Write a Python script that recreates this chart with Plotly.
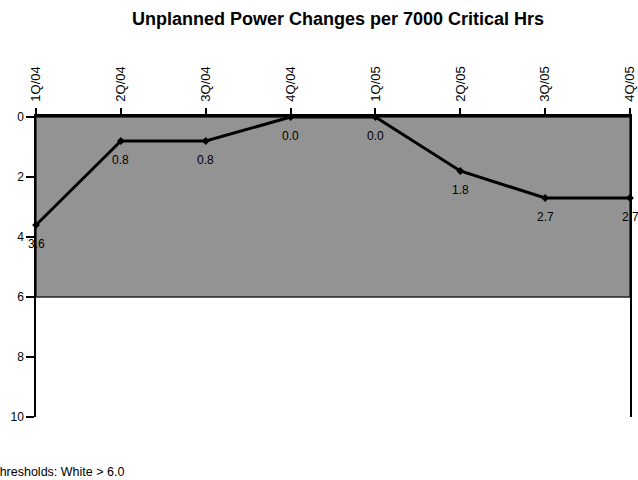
import plotly.graph_objects as go

quarters = ["1Q/04", "2Q/04", "3Q/04", "4Q/04", "1Q/05", "2Q/05", "3Q/05", "4Q/05"]
values = [3.6, 0.8, 0.8, 0.0, 0.0, 1.8, 2.7, 2.7]
threshold = 6.0
y_ticks = [0, 2, 4, 6, 8, 10]

xs = list(range(len(quarters)))
FONT = "Liberation Sans, Arial"

fig = go.Figure()
fig.add_trace(go.Scatter(
    x=xs, y=values, mode="lines+markers",
    line=dict(color="black", width=3),
    marker=dict(symbol="diamond", size=6, color="black"),
    cliponaxis=False, showlegend=False,
))

fig.add_shape(type="rect", xref="x", yref="y", x0=0, x1=len(quarters) - 1, y0=0, y1=threshold,
              fillcolor="#939393", line=dict(color="#222222", width=1.5), layer="below")

PLOT_W, PLOT_H = 594, 300
annotations = [dict(x=x, y=v, xref="x", yref="y", text=f"{v:.1f}", showarrow=False,
                    yshift=-19, xanchor="center", yanchor="middle",
                    font=dict(family=FONT, size=12, color="black"))
               for x, v in zip(xs, values)]
annotations.append(dict(text="Thresholds: White > 6.0", xref="paper", yref="paper",
                        x=-46 / PLOT_W, y=-55 / PLOT_H, xanchor="left", yanchor="middle",
                        showarrow=False,
                        font=dict(family=FONT, size=12.5, color="black")))

fig.update_layout(
    width=638, height=480,
    margin=dict(l=36, r=8, t=117, b=63),
    paper_bgcolor="white", plot_bgcolor="white",
    title=dict(text="<b>Unplanned Power Changes per 7000 Critical Hrs</b>",
               x=338 / 638, xanchor="center", y=1 - 19 / 480, yanchor="middle",
               font=dict(family=FONT, size=18, color="black")),
    xaxis=dict(range=[0, len(quarters) - 1], side="top", tickvals=xs, ticktext=quarters,
               tickangle=-90, ticks="outside", ticklen=6, tickwidth=2, tickcolor="black",
               ticklabelstandoff=4,
               showgrid=False, zeroline=False, showline=True, linecolor="black", linewidth=2.5,
               automargin=False,
               tickfont=dict(family=FONT, size=13, color="black")),
    yaxis=dict(range=[10, 0], tickvals=y_ticks, ticks="outside", ticklen=8, tickwidth=2,
               tickcolor="black", showgrid=False, zeroline=False, showline=True, mirror=True,
               linecolor="black", linewidth=1.5, automargin=False,
               tickfont=dict(family=FONT, size=12, color="black")),
    annotations=annotations,
)

fig.write_html("out.html", config={"displayModeBar": False},
               post_script="document.body.style.margin='0';document.body.style.overflow='hidden';")
